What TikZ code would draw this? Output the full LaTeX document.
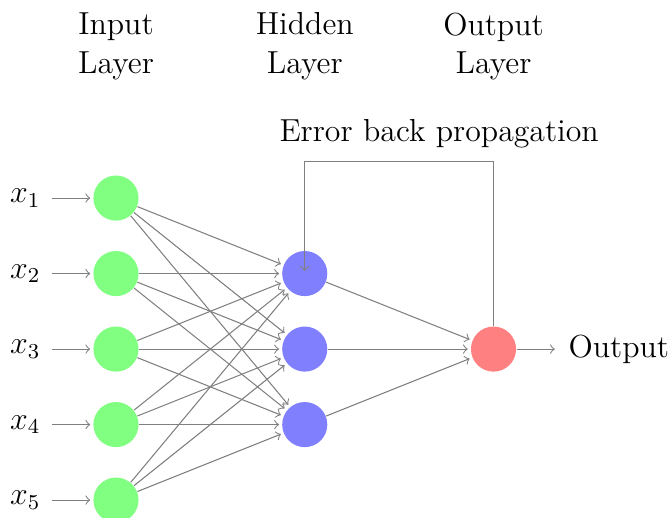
\documentclass[12pt,tikz,border=0pt]{standalone}
\usepackage{tikz}
\usetikzlibrary{positioning}

\tikzset{
  neuron/.style={circle, fill=black!25, minimum size=17pt, inner sep=0pt},
  input neuron/.style={neuron, fill=green!50},
  hidden neuron/.style={neuron, fill=blue!50},
  output neuron/.style={neuron, fill=red!50},
  link/.style={->, draw=black!50, shorten >=1pt},
  layer name/.style={align=center}
}

\begin{document}
\begin{tikzpicture}

\useasboundingbox (-1.536,-5.225) rectangle (7.364,1.623);

% input layer
\node[input neuron] (I-1) at (0,-1) {};
\node[input neuron] (I-2) at (0,-2) {};
\node[input neuron] (I-3) at (0,-3) {};
\node[input neuron] (I-4) at (0,-4) {};
\node[input neuron] (I-5) at (0,-5) {};

\node (x-1) at (-1.2,-1) {$x_1$};
\node (x-2) at (-1.2,-2) {$x_2$};
\node (x-3) at (-1.2,-3) {$x_3$};
\node (x-4) at (-1.2,-4) {$x_4$};
\node (x-5) at (-1.2,-5) {$x_5$};

% hidden layer
\node[hidden neuron] (H-1) at (2.5,-2) {};
\node[hidden neuron] (H-2) at (2.5,-3) {};
\node[hidden neuron] (H-3) at (2.5,-4) {};

% output layer
\node[output neuron] (O) at (5,-3) {};
\node (out) at (6.66,-3) {Output};

% inputs
\foreach \i in {1,...,5}
  \draw[link] (x-\i) -- (I-\i);

% input to hidden
\foreach \i in {1,...,5}
  \foreach \h in {1,...,3}
    \draw[link] (I-\i) -- (H-\h);

% hidden to output
\foreach \h in {1,...,3}
  \draw[link] (H-\h) -- (O);

\draw[link] (O) -- (out);

% back propagation loop
\coordinate (top) at (5,-0.51);
\draw[link] (O.north) -- (top) -| (H-1.center);
\node (err) at (4.28,-0.15) {Error back propagation};

% layer names
\node[layer name] (in-name) at (0,1.01) {Input\\Layer};
\node[layer name] (hid-name) at (2.5,1.01) {Hidden\\Layer};
\node[layer name] (out-name) at (5,1.01) {Output\\Layer};

\end{tikzpicture}
\end{document}
